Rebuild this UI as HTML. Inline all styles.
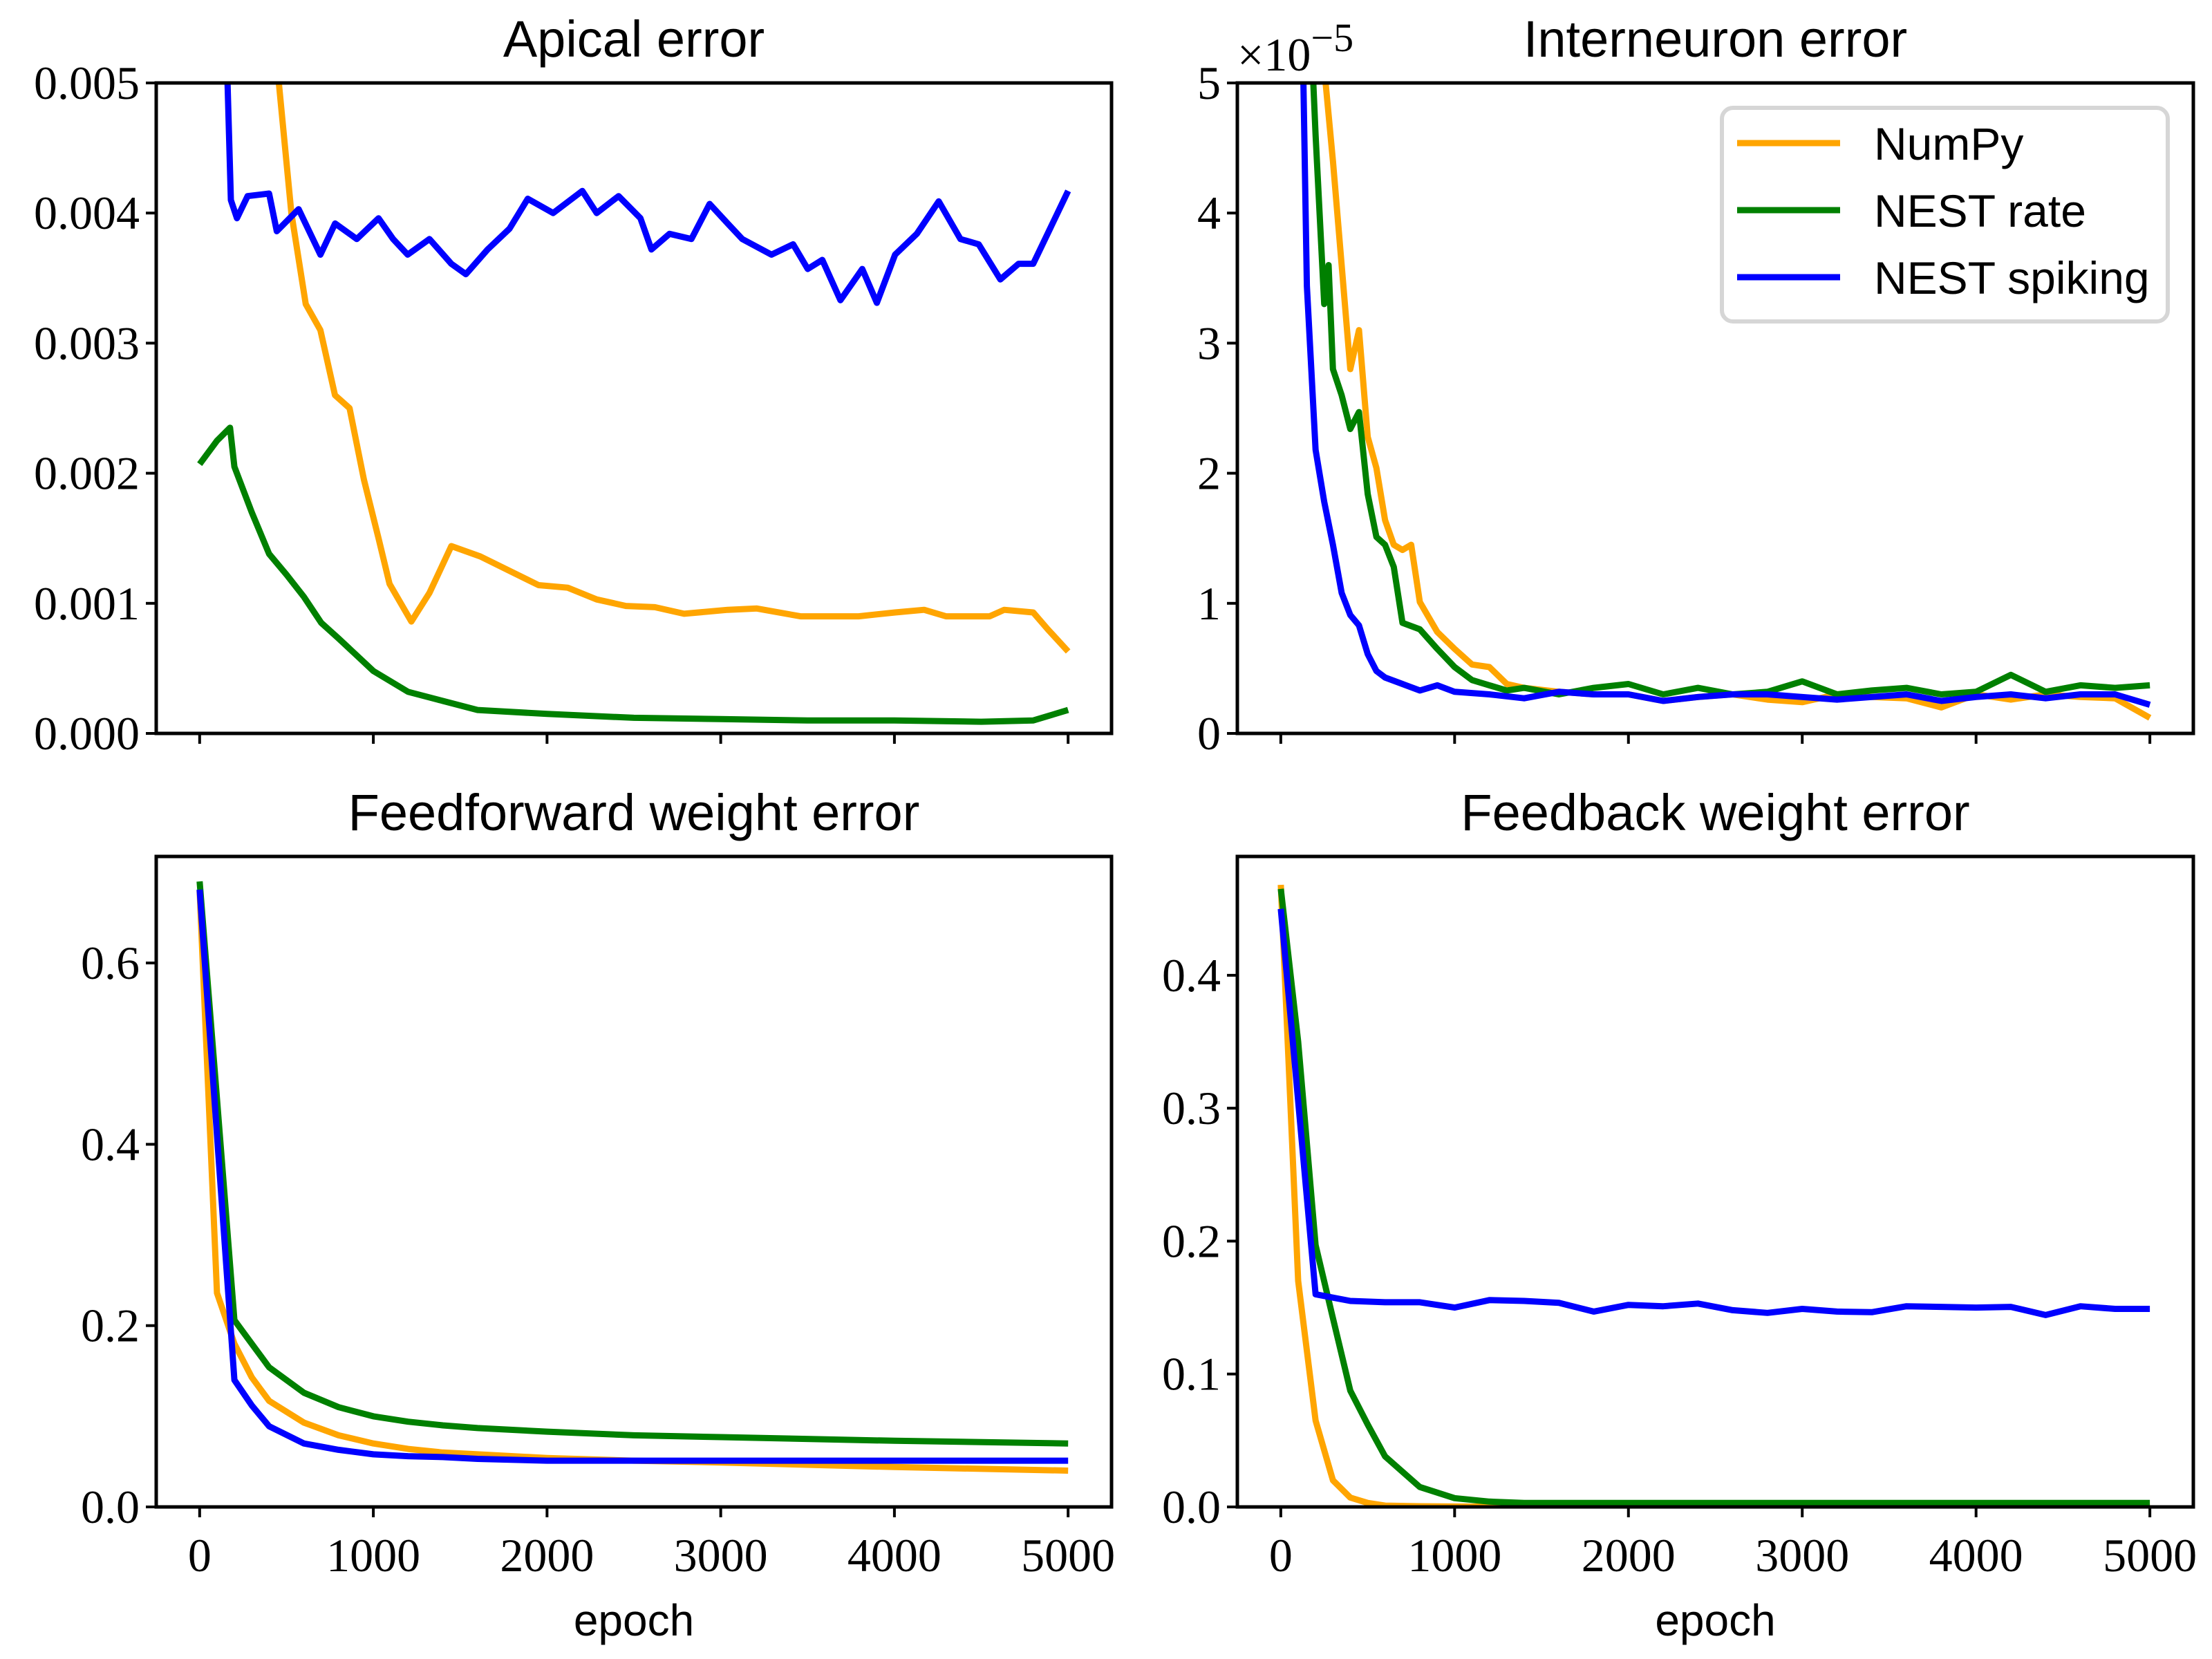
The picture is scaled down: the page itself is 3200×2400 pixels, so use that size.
<!DOCTYPE html>
<html><head><meta charset="utf-8"><style>
html,body{margin:0;padding:0;background:#fff;}
svg{display:block;}
</style></head><body>
<svg id="fig" xmlns="http://www.w3.org/2000/svg" width="3200" height="2400" viewBox="0 0 3200 2400"></svg>
<script>
// ---------- data ----------
// Apical error
const apEpochNumpy = [0,200,400,456,528,611,695,779,863,946,1030,1093,1219,1323,1449,1616,1784,1951,2119,2286,2454,2621,2789,3040,3208,3459,3794,4004,4171,4297,4548,4632,4799,4883,5000];
const apNumpy = [0.012,0.008,0.0056,0.0050,0.0040,0.0033,0.0031,0.0026,0.0025,0.00195,0.0015,0.00115,0.00086,0.00108,0.00144,0.00136,0.00125,0.00114,0.00112,0.00103,0.00098,0.00097,0.00092,0.00095,0.00096,0.00090,0.00090,0.00093,0.00095,0.00090,0.00090,0.00095,0.00093,0.00080,0.00063];
const apEpochRate = [0,100,175,200,300,400,500,600,700,800,1000,1200,1400,1600,2000,2500,3000,3500,4000,4500,4800,5000];
const apRate = [0.00207,0.00225,0.00235,0.00205,0.0017,0.00138,0.00122,0.00105,0.00085,0.00073,0.00048,0.00032,0.00025,0.00018,0.00015,0.00012,0.00011,0.00010,0.00010,0.00009,0.00010,0.00018];
const apEpochSpike = [0,100,150,180,215,276,400,444,570,695,780,905,1030,1114,1198,1323,1449,1533,1658,1784,1889,2035,2203,2286,2412,2538,2601,2705,2831,2936,3040,3124,3292,3417,3501,3585,3689,3815,3899,4004,4129,4255,4380,4485,4610,4715,4799,4925,5000];
const apSpike = [0.012,0.008,0.0055,0.0041,0.00396,0.00413,0.00415,0.00386,0.00403,0.00368,0.00392,0.00380,0.00396,0.00380,0.00368,0.00380,0.00361,0.00353,0.00372,0.00388,0.00411,0.00400,0.00417,0.00400,0.00413,0.00396,0.00372,0.00384,0.00380,0.00407,0.00392,0.00380,0.00368,0.00376,0.00357,0.00364,0.00333,0.00357,0.00331,0.00368,0.00384,0.00409,0.00380,0.00376,0.00349,0.00361,0.00361,0.00396,0.00417];

// Interneuron error (x1e-5)
const inEpochNumpy = [0,200,258,300,350,400,450,500,550,600,650,700,750,800,900,1000,1100,1200,1300,1400,1600,1800,2000,2200,2400,2600,2800,3000,3200,3400,3600,3800,4000,4200,4400,4600,4800,5000];
const inNumpy = [20,8,5.0,4.4,3.6,2.8,3.1,2.28,2.04,1.64,1.45,1.41,1.45,1.01,0.78,0.65,0.53,0.51,0.38,0.35,0.32,0.30,0.30,0.25,0.28,0.30,0.26,0.24,0.30,0.28,0.27,0.20,0.30,0.26,0.30,0.28,0.27,0.12];
const inEpochRate = [0,150,187,200,250,275,300,350,400,450,500,550,600,650,700,800,900,1000,1100,1200,1300,1400,1600,1800,2000,2200,2400,2600,2800,3000,3200,3400,3600,3800,4000,4200,4400,4600,4800,5000];
const inRate = [20,7,5.0,4.6,3.3,3.6,2.8,2.6,2.34,2.47,1.84,1.51,1.45,1.28,0.85,0.80,0.65,0.51,0.41,0.37,0.33,0.35,0.30,0.35,0.38,0.30,0.35,0.30,0.32,0.40,0.30,0.33,0.35,0.30,0.32,0.45,0.32,0.37,0.35,0.37];
const inEpochSpike = [0,100,130,150,200,250,300,350,400,450,500,550,600,700,800,900,1000,1200,1400,1600,1800,2000,2200,2400,2600,2800,3000,3200,3400,3600,3800,4000,4200,4400,4600,4800,5000];
const inSpike = [20,8,5.0,3.44,2.18,1.78,1.45,1.08,0.91,0.83,0.61,0.48,0.43,0.38,0.33,0.37,0.32,0.30,0.27,0.32,0.30,0.30,0.25,0.28,0.30,0.30,0.28,0.26,0.28,0.30,0.25,0.28,0.30,0.27,0.30,0.30,0.22];

// Feedforward weight error
const ffEpoch = [0,100,200,300,400,600,800,1000,1200,1400,1600,2000,2500,3000,4000,5000];
const ffNumpy = [0.68,0.236,0.18,0.143,0.117,0.093,0.079,0.070,0.064,0.060,0.058,0.054,0.051,0.049,0.044,0.040];
const ffRate  = [0.69,0.45,0.206,0.18,0.154,0.126,0.110,0.100,0.094,0.090,0.087,0.083,0.079,0.077,0.073,0.070];
const ffSpike = [0.681,0.41,0.140,0.112,0.089,0.070,0.063,0.058,0.056,0.055,0.053,0.051,0.051,0.051,0.051,0.051];

// Feedback weight error
const fbEpoch = [0,100,200,300,400,500,600,800,1000,1200,1400,1600,1800,2000,2200,2400,2600,2800,3000,3200,3400,3600,3800,4000,4200,4400,4600,4800,5000];
const fbNumpy = [0.468,0.170,0.065,0.020,0.007,0.003,0.001,0.0005,0.0003,0.0002,0.0002,0.0002,0.0002,0.0002,0.0002,0.0002,0.0002,0.0002,0.0002,0.0002,0.0002,0.0002,0.0002,0.0002,0.0002,0.0002,0.0002,0.0002,0.0002];
const fbRate  = [0.465,0.35,0.197,0.142,0.0875,0.062,0.038,0.015,0.0066,0.004,0.003,0.003,0.003,0.003,0.003,0.003,0.003,0.003,0.003,0.003,0.003,0.003,0.003,0.003,0.003,0.003,0.003,0.003,0.003];
const fbEpochSpike = [0,200,400,600,800,1000,1200,1400,1600,1800,2000,2200,2400,2600,2800,3000,3200,3400,3600,3800,4000,4200,4400,4600,4800,5000];
const fbSpike = [0.45,0.160,0.155,0.154,0.154,0.150,0.1556,0.155,0.1536,0.147,0.152,0.151,0.153,0.148,0.146,0.149,0.147,0.1465,0.151,0.1505,0.150,0.1505,0.1444,0.151,0.149,0.149];

const xTicks = [0,1000,2000,3000,4000,5000];
const apTicks = [0,0.001,0.002,0.003,0.004,0.005];
const apTickLabels = ["0.000","0.001","0.002","0.003","0.004","0.005"];
const inTicks = [0,1,2,3,4,5];
const inTickLabels = ["0","1","2","3","4","5"];
const ffTicks = [0,0.2,0.4,0.6];
const ffTickLabels = ["0.0","0.2","0.4","0.6"];
const fbTicks = [0,0.1,0.2,0.3,0.4];
const fbTickLabels = ["0.0","0.1","0.2","0.3","0.4"];

const ORANGE="#ffa500", GREEN="#008000", BLUE="#0000ff";
const NS="http://www.w3.org/2000/svg";
const svg=document.getElementById('fig');
function mk(tag,attrs,parent){const e=document.createElementNS(NS,tag);for(const k in attrs)e.setAttribute(k,attrs[k]);(parent||svg).appendChild(e);return e;}

function panel(cfg){
  const g=mk('g',{});
  
  
  const xs=v=>cfg.l+(v-(-250))/(5500)*(cfg.r-cfg.l);
  const ys=v=>cfg.b-(v-cfg.ymin)/(cfg.ymax-cfg.ymin)*(cfg.b-cfg.t);
  const cid='clip-'+cfg.name;
  const cp=mk('clipPath',{id:cid},g);
  mk('rect',{x:cfg.l,y:cfg.t,width:cfg.r-cfg.l,height:cfg.b-cfg.t},cp);
  cfg.series.forEach(s=>{
    let d='';
    s.x.forEach((ep,i)=>{d+=(i?'L':'M')+xs(ep).toFixed(1)+','+ys(s.y[i]).toFixed(1);});
    const p=mk('path',{d:d,fill:'none',stroke:s.c,'stroke-width':9,'stroke-linejoin':'round','clip-path':'url(#'+cid+')'},g);
    
    
  });
  const fr=mk('rect',{x:cfg.l,y:cfg.t,width:cfg.r-cfg.l,height:cfg.b-cfg.t,fill:'none',stroke:'#000','stroke-width':5},g);
  
  
  xTicks.forEach(v=>{
    mk('line',{x1:xs(v),x2:xs(v),y1:cfg.b,y2:cfg.b+15,stroke:'#000','stroke-width':4},g);
    if(cfg.xlabels){
      const t=mk('text',{x:xs(v),y:cfg.b+93,'text-anchor':'middle','font-family':'Liberation Serif, serif','font-size':68},g);
      t.textContent=String(v);
      
      
    }
  });
  cfg.yt.forEach((v,i)=>{
    mk('line',{x1:cfg.l-15,x2:cfg.l,y1:ys(v),y2:ys(v),stroke:'#000','stroke-width':4},g);
    const t=mk('text',{x:cfg.l-24,y:ys(v)+23,'text-anchor':'end','font-family':'Liberation Serif, serif','font-size':68},g);
    t.textContent=cfg.yl[i];
    
    
  });
  const ti=mk('text',{x:(cfg.l+cfg.r)/2,y:cfg.t-38,'text-anchor':'middle','font-family':'Liberation Sans, sans-serif','font-size':74},g);
  ti.textContent=cfg.title;
  
  
  if(cfg.xlabels){
    const xl=mk('text',{x:(cfg.l+cfg.r)/2,y:2366,'text-anchor':'middle','font-family':'Liberation Sans, sans-serif','font-size':64},g);
    xl.textContent='epoch';
    
    
  }
}

panel({name:'apical-error-panel',title:'Apical error',l:226,r:1608,t:120,b:1061,ymin:0,ymax:0.005,yt:apTicks,yl:apTickLabels,xlabels:false,
  series:[{n:'numpy-line',c:ORANGE,x:apEpochNumpy,y:apNumpy},{n:'nest-rate-line',c:GREEN,x:apEpochRate,y:apRate},{n:'nest-spiking-line',c:BLUE,x:apEpochSpike,y:apSpike}]});
panel({name:'interneuron-error-panel',title:'Interneuron error',l:1790,r:3173,t:120,b:1061,ymin:0,ymax:5,yt:inTicks,yl:inTickLabels,xlabels:false,
  series:[{n:'numpy-line',c:ORANGE,x:inEpochNumpy,y:inNumpy},{n:'nest-rate-line',c:GREEN,x:inEpochRate,y:inRate},{n:'nest-spiking-line',c:BLUE,x:inEpochSpike,y:inSpike}]});
panel({name:'feedforward-weight-error-panel',title:'Feedforward weight error',l:226,r:1608,t:1239,b:2180,ymin:0,ymax:0.7175,yt:ffTicks,yl:ffTickLabels,xlabels:true,
  series:[{n:'numpy-line',c:ORANGE,x:ffEpoch,y:ffNumpy},{n:'nest-rate-line',c:GREEN,x:ffEpoch,y:ffRate},{n:'nest-spiking-line',c:BLUE,x:ffEpoch,y:ffSpike}]});
panel({name:'feedback-weight-error-panel',title:'Feedback weight error',l:1790,r:3173,t:1239,b:2180,ymin:0,ymax:0.4894,yt:fbTicks,yl:fbTickLabels,xlabels:true,
  series:[{n:'numpy-line',c:ORANGE,x:fbEpoch,y:fbNumpy},{n:'nest-rate-line',c:GREEN,x:fbEpoch,y:fbRate},{n:'nest-spiking-line',c:BLUE,x:fbEpochSpike,y:fbSpike}]});

// offset text
const off=mk('text',{x:1790,y:102,'font-family':'Liberation Serif, serif','font-size':68});


off.innerHTML='×10<tspan dy="-28" font-size="58">−5</tspan>';

// legend
const lg=mk('g',{});


mk('rect',{x:2491,y:156,width:645,height:309,rx:16,fill:'#fff','fill-opacity':0.85,stroke:'#d6d6d6','stroke-width':6},lg);
[['NumPy',ORANGE,207],['NEST rate',GREEN,304],['NEST spiking',BLUE,401]].forEach(e=>{
  const ln=mk('line',{x1:2513,x2:2662,y1:e[2],y2:e[2],stroke:e[1],'stroke-width':9},lg);
  
  
  const t=mk('text',{x:2711,y:e[2]+24,'font-family':'Liberation Sans, sans-serif','font-size':66},lg);
  t.textContent=e[0];
  
  
});
</script>
</body></html>
